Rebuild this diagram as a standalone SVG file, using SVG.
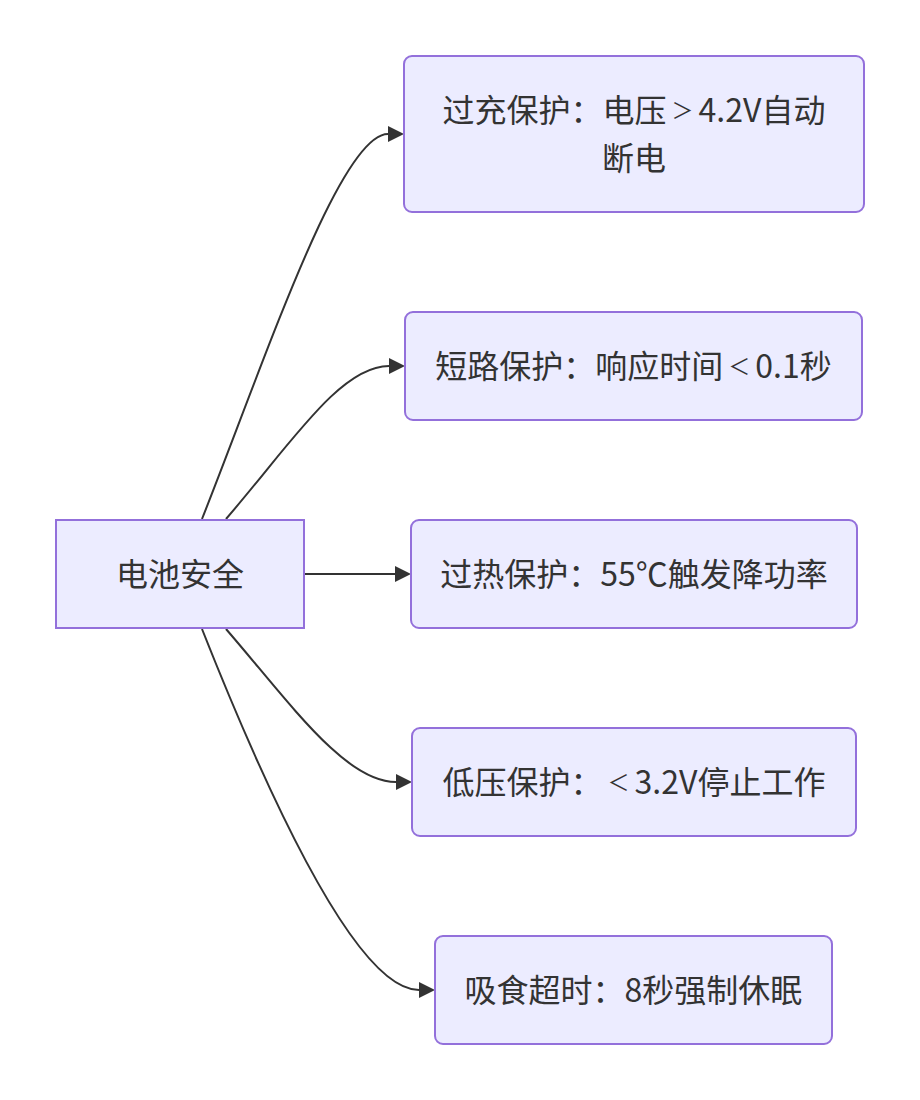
<svg xmlns="http://www.w3.org/2000/svg" width="920" height="1100" viewBox="0 0 920 1100">
<style>
.node rect{fill:#ECECFF;stroke:#9370DB;stroke-width:2}
.node text{fill:#333;font-family:"Noto Sans CJK SC","Noto Sans",sans-serif;font-size:32px;text-anchor:middle;dominant-baseline:central}
.node tspan.sym{font-size:22px}
.edges path{fill:none;stroke:#333;stroke-width:2;marker-end:url(#arrow)}
</style>
<defs>
<marker id="arrow" markerUnits="userSpaceOnUse" markerWidth="16" markerHeight="16" viewBox="0 0 10 10" refX="0" refY="5" orient="auto">
<path d="M0,0 L10,5 L0,10 z" fill="#333"/>
</marker>
</defs>
<rect width="920" height="1100" fill="#fff"/>
<g class="edges">
<path d="M202,519 C265,360 340,134 388,134"/>
<path d="M226,519 C290,445 340,366 389,366"/>
<path d="M304,574 L395,574"/>
<path d="M226,629 C290,703 345,782 396,782"/>
<path d="M202,629 C265,788 355,990 419,990"/>
</g>
<g id="root" class="node"><rect x="56" y="520" width="248" height="108"/><text x="180" y="572">电池安全</text></g>
<g id="n1" class="node"><rect x="404" y="56" width="460" height="156" rx="8"/><text x="634" y="108">过充保护：电压<tspan class="sym" dx="5">＞</tspan><tspan dx="5">4.2V自动</tspan></text><text x="634" y="156">断电</text></g>
<g id="n2" class="node"><rect x="405" y="312" width="457" height="108" rx="8"/><text x="633.5" y="364">短路保护：响应时间<tspan class="sym" dx="5">＜</tspan><tspan dx="5">0.1秒</tspan></text></g>
<g id="n3" class="node"><rect x="411" y="520" width="446" height="108" rx="8"/><text x="634" y="572">过热保护：55℃触发降功率</text></g>
<g id="n4" class="node"><rect x="412" y="728" width="444" height="108" rx="8"/><text x="634" y="780">低压保护：<tspan class="sym" dx="5">＜</tspan><tspan dx="5">3.2V停止工作</tspan></text></g>
<g id="n5" class="node"><rect x="435" y="936" width="397" height="108" rx="8"/><text x="633.5" y="988">吸食超时：8秒强制休眠</text></g>
</svg>
